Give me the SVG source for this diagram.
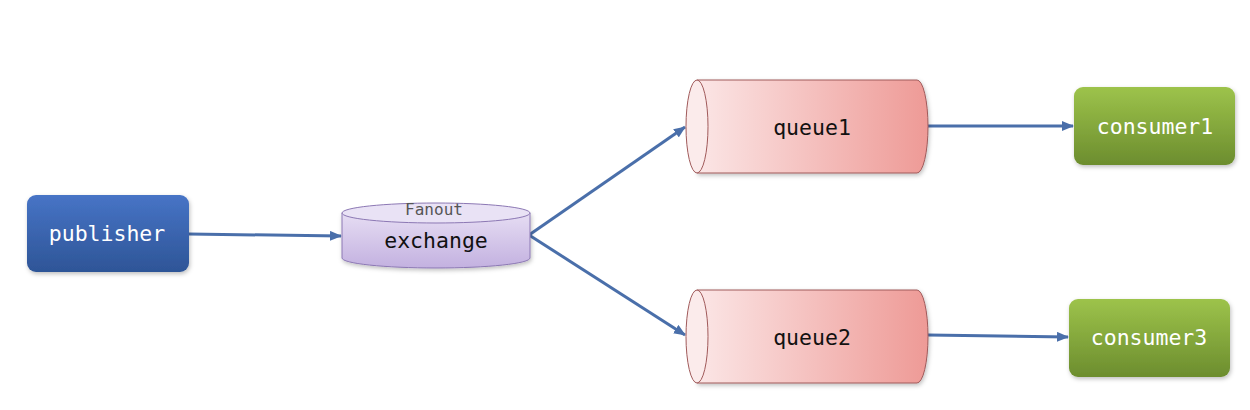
<svg xmlns="http://www.w3.org/2000/svg" width="1250" height="410" viewBox="0 0 1250 410">
<defs>
<linearGradient id="gBlue" x1="0" y1="0" x2="0" y2="1"><stop offset="0" stop-color="#4774C6"/><stop offset="1" stop-color="#2E5597"/></linearGradient>
<linearGradient id="gGreen" x1="0" y1="0" x2="0" y2="1"><stop offset="0" stop-color="#9DC34B"/><stop offset="1" stop-color="#6C8D2E"/></linearGradient>
<linearGradient id="gPurple" x1="0" y1="0" x2="0" y2="1"><stop offset="0" stop-color="#E6DDF3"/><stop offset="1" stop-color="#C3B1E0"/></linearGradient>
<linearGradient id="gRed" x1="0" y1="0" x2="1" y2="0"><stop offset="0" stop-color="#FBE6E6"/><stop offset="1" stop-color="#EE9A96"/></linearGradient>
<filter id="sh" x="-10%" y="-10%" width="125%" height="130%"><feDropShadow dx="1" dy="2" stdDeviation="2" flood-color="#000" flood-opacity="0.25"/></filter>
<marker id="ah" markerWidth="12" markerHeight="10" refX="11" refY="5" orient="auto" markerUnits="userSpaceOnUse"><path d="M0,0 L12,5 L0,10 z" fill="#4A6FAA"/></marker>
</defs>
<style>
.mono{font-family:"DejaVu Sans Mono","Liberation Mono",monospace;font-size:21.5px;text-anchor:middle}
.w{fill:#fff}
.k{fill:#111}
.conn{stroke:#4A6FAA;stroke-width:3;fill:none;marker-end:url(#ah)}
</style>
<rect width="1250" height="410" fill="#fff"/>
<g id="connectors">
<line class="conn" x1="189" y1="234" x2="341" y2="236"/>
<line class="conn" x1="529" y1="235" x2="685" y2="127"/>
<line class="conn" x1="529" y1="235" x2="685" y2="335"/>
<line class="conn" x1="928" y1="126" x2="1073" y2="126"/>
<line class="conn" x1="928" y1="335" x2="1068" y2="337"/>
</g>
<g id="publisher">
<rect x="27" y="195" width="162" height="77" rx="9" fill="url(#gBlue)" filter="url(#sh)"/>
<text class="mono w" x="107" y="241">publisher</text>
</g>
<g id="exchange">
<path d="M342,213 L342,258 A94,10 0 0 0 530,258 L530,213 Z" fill="url(#gPurple)" stroke="#8C78B4" stroke-width="1" filter="url(#sh)"/>
<ellipse cx="436" cy="213" rx="94" ry="10" fill="#E9E2F5" stroke="#8C78B4" stroke-width="1"/>
<text x="434" y="215" style="font-family:'DejaVu Sans Mono','Liberation Mono',monospace;font-size:16px;text-anchor:middle;fill:#555">Fanout</text>
<text class="mono k" x="436" y="248">exchange</text>
</g>
<g id="queue1">
<path d="M697,80 L917,80 A11,46.5 0 0 1 917,173 L697,173 Z" fill="url(#gRed)" stroke="#A05A5A" stroke-width="1" filter="url(#sh)"/>
<ellipse cx="697" cy="126.5" rx="11" ry="46.5" fill="#FBEBEB" stroke="#A05A5A" stroke-width="1"/>
<text class="mono k" x="812" y="135">queue1</text>
</g>
<g id="queue2">
<path d="M697,290 L917,290 A11,46.5 0 0 1 917,383 L697,383 Z" fill="url(#gRed)" stroke="#A05A5A" stroke-width="1" filter="url(#sh)"/>
<ellipse cx="697" cy="336.5" rx="11" ry="46.5" fill="#FBEBEB" stroke="#A05A5A" stroke-width="1"/>
<text class="mono k" x="812" y="345">queue2</text>
</g>
<g id="consumer1">
<rect x="1074" y="87" width="161" height="78" rx="9" fill="url(#gGreen)" filter="url(#sh)"/>
<text class="mono w" x="1155" y="134">consumer1</text>
</g>
<g id="consumer3">
<rect x="1069" y="299" width="161" height="78" rx="9" fill="url(#gGreen)" filter="url(#sh)"/>
<text class="mono w" x="1149" y="345">consumer3</text>
</g>
</svg>
